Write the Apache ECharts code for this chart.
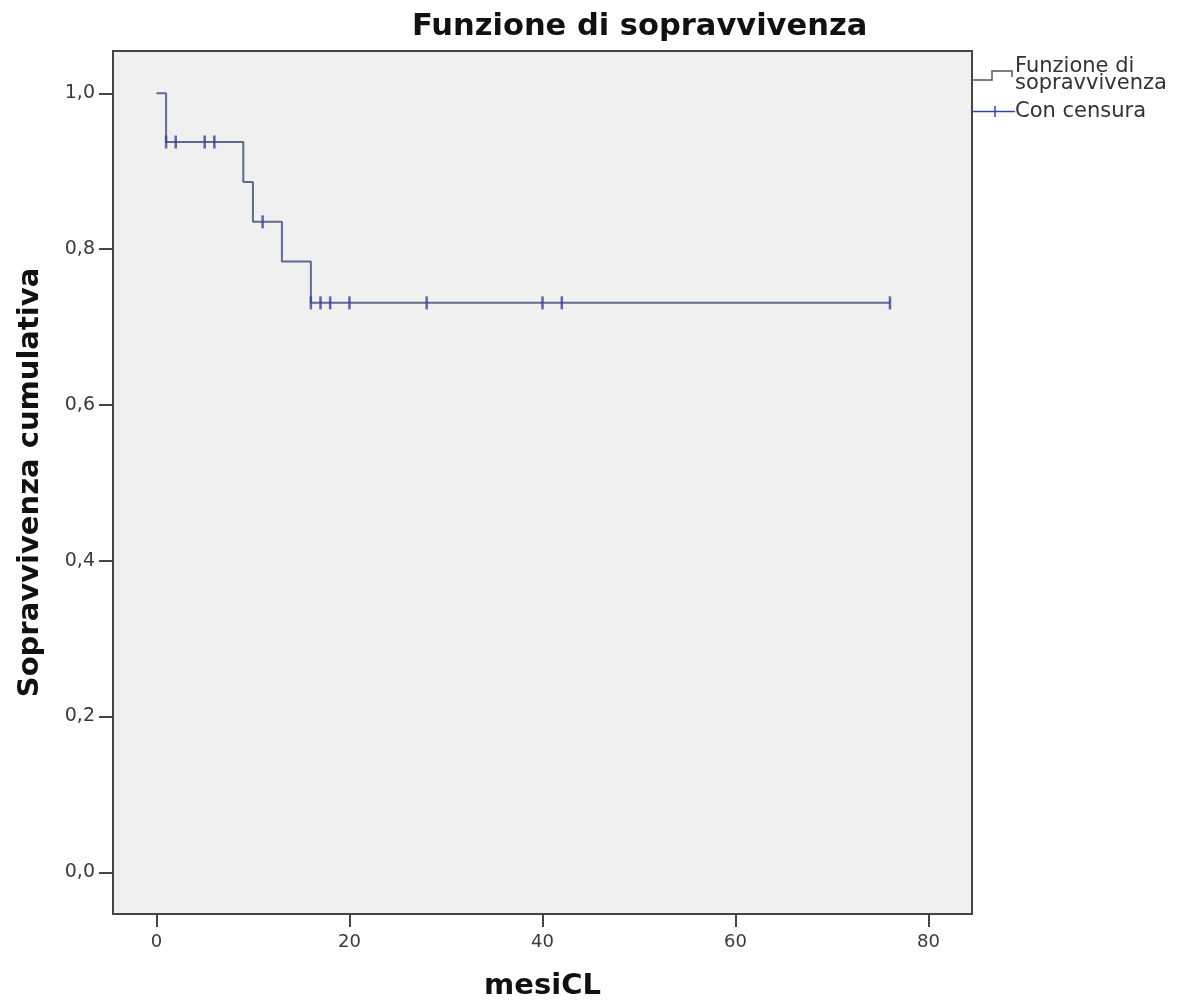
<!DOCTYPE html>
<html>
<head>
<meta charset="utf-8">
<script src="https://cdn.jsdelivr.net/npm/echarts@6/dist/echarts.min.js"></script>
<style>
html,body{margin:0;padding:0;background:#fff;}
#chart{width:1177px;height:1008px;}
</style>
</head>
<body>
<div id="chart"></div>
<script>
// Kaplan-Meier step function (time in months, cumulative survival)
var stepTimes = [0, 1, 9, 10, 13, 16, 76];
var stepSurvival = [1.0, 0.9375, 0.886, 0.835, 0.784, 0.731, 0.731];
// Censored observations
var censorTimes = [1, 2, 5, 6, 11, 16, 17, 18, 20, 28, 40, 42, 76];
var censorSurvival = [0.9375, 0.9375, 0.9375, 0.9375, 0.835, 0.731, 0.731, 0.731, 0.731, 0.731, 0.731, 0.731, 0.731];
// Tick labels
var xTicks = [0, 20, 40, 60, 80];
var yTicks = [0, 0.2, 0.4, 0.6, 0.8, 1.0];

var titleText = 'Funzione di sopravvivenza';
var xName = 'mesiCL';
var yName = 'Sopravvivenza cumulativa';
var legendStep = ['Funzione di', 'sopravvivenza'];
var legendCensor = 'Con censura';

var stepColor = '#5f6a8f';
var censorColor = '#33449a';
var FONT = 'DejaVu Sans';

var chart = echarts.init(document.getElementById('chart'), null, {renderer: 'canvas'});

var stepData = stepTimes.map(function (t, i) { return [t, stepSurvival[i]]; });
var censorData = censorTimes.map(function (t, i) { return [t, censorSurvival[i]]; });

var option = {
  backgroundColor: '#ffffff',
  animation: false,
  title: {
    text: titleText,
    left: 412,
    top: 12,
    padding: 0,
    textStyle: {fontFamily: FONT, fontWeight: 'bold', fontSize: 30.5, color: '#111111'}
  },
  grid: {
    left: 113, right: 205, top: 51, bottom: 94,
    show: true,
    backgroundColor: '#f0f0f0',
    borderColor: '#454545',
    borderWidth: 2
  },
  xAxis: {
    type: 'value',
    position: 'bottom',
    min: -4.5,
    max: 84.5,
    name: xName,
    nameLocation: 'middle',
    nameGap: 58,
    nameTextStyle: {fontFamily: FONT, fontWeight: 'bold', fontSize: 29, color: '#111111'},
    axisLine: {show: false, onZero: false},
    splitLine: {show: false},
    axisTick: {show: true, inside: false, length: 13, customValues: xTicks, lineStyle: {color: '#454545', width: 2}},
    axisLabel: {
      customValues: xTicks,
      margin: 19,
      fontFamily: FONT, fontSize: 18, color: '#3a3a3a',
      formatter: function (v) { return String(v); }
    }
  },
  yAxis: {
    type: 'value',
    position: 'left',
    min: -0.0535,
    max: 1.0543,
    name: yName,
    nameLocation: 'middle',
    nameGap: 68,
    nameTextStyle: {fontFamily: FONT, fontWeight: 'bold', fontSize: 29, color: '#111111'},
    axisLine: {show: false, onZero: false},
    splitLine: {show: false},
    axisTick: {show: true, inside: false, length: 14, customValues: yTicks, lineStyle: {color: '#454545', width: 2}},
    axisLabel: {
      customValues: yTicks,
      margin: 18,
      fontFamily: FONT, fontSize: 19, color: '#3a3a3a',
      formatter: function (v) { return v.toFixed(1).replace('.', ','); }
    }
  },
  series: [
    {
      name: 'Funzione di sopravvivenza',
      type: 'line',
      step: 'end',
      data: stepData,
      showSymbol: false,
      symbol: 'none',
      lineStyle: {color: stepColor, width: 2},
      z: 2
    },
    {
      name: 'Con censura',
      type: 'scatter',
      data: censorData,
      symbol: 'rect',
      symbolSize: [2.5, 13],
      itemStyle: {color: censorColor},
      z: 3
    }
  ],
  graphic: [
    {
      type: 'polyline',
      shape: {points: [[972, 80], [992, 80], [992, 71], [1012, 71], [1012, 77]]},
      style: {stroke: '#555555', lineWidth: 1.5, fill: null}
    },
    {
      type: 'line',
      shape: {x1: 972, y1: 111.5, x2: 1015, y2: 111.5},
      style: {stroke: censorColor, lineWidth: 1.5}
    },
    {
      type: 'line',
      shape: {x1: 995, y1: 106, x2: 995, y2: 117},
      style: {stroke: censorColor, lineWidth: 1.5}
    },
    {
      type: 'text',
      style: {text: legendStep[0], x: 1015, y: 66.5, textVerticalAlign: 'middle', font: '21px "DejaVu Sans"', fill: '#333333'}
    },
    {
      type: 'text',
      style: {text: legendStep[1], x: 1015, y: 83.5, textVerticalAlign: 'middle', font: '21px "DejaVu Sans"', fill: '#333333'}
    },
    {
      type: 'text',
      style: {text: legendCensor, x: 1015, y: 111.5, textVerticalAlign: 'middle', font: '21px "DejaVu Sans"', fill: '#333333'}
    }
  ]
};

chart.setOption(option);
</script>
</body>
</html>
